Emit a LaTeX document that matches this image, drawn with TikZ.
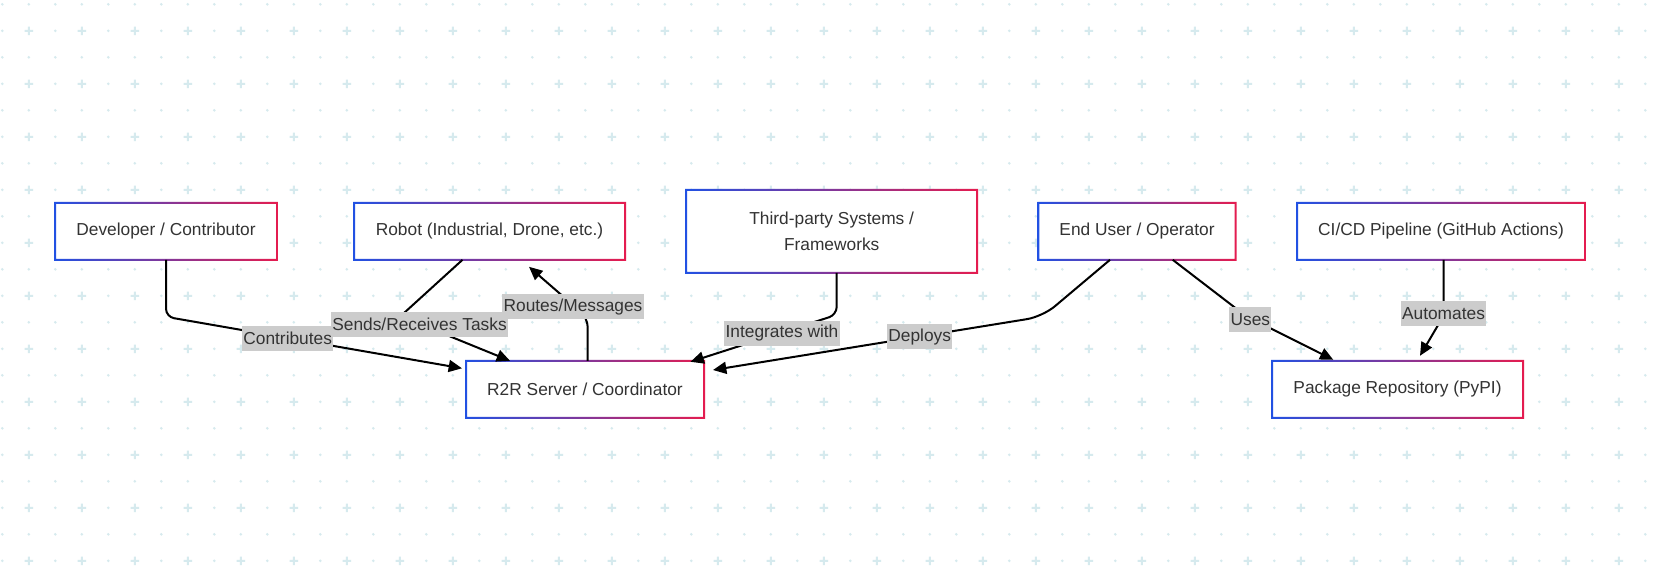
\documentclass[tikz,border=0pt]{standalone}
\usepackage{fontspec}
\setmainfont{Liberation Sans}
\usetikzlibrary{arrows.meta,calc}
\definecolor{boxblue}{RGB}{33,81,227}
\definecolor{boxred}{RGB}{229,28,79}
\definecolor{txt}{RGB}{51,51,51}
\definecolor{lblgray}{RGB}{204,204,204}
\definecolor{gridc}{RGB}{214,234,238}

\begin{document}
\begin{tikzpicture}[x=0.75pt, y=-0.75pt, every node/.style={font=\fontsize{13}{19.3}\selectfont, text=txt}, >={Triangle[length=10pt,width=9pt]},
	box/.style={fill=white, inner sep=0pt, outer sep=0pt, minimum height=42.75pt, align=center},
	elabel/.style={fill=lblgray, inner xsep=1pt, inner ysep=0pt, minimum height=18.75pt},
	conn/.style={->, line width=1.5pt, line join=round}]
	\useasboundingbox (0,0) rectangle (1655,582);
	\fill[white] (0,0) rectangle (1655,582);
	\foreach \j in {0,2,...,20} {\foreach \i in {0,...,62} {\fill[gridc] ({2.3+26.5*\i},{4.3+26.5*\j}) circle[radius=1.1pt];}}
	\foreach \j in {1,3,...,21} {\foreach \i in {0,2,...,62} {\fill[gridc] ({2.3+26.5*\i},{4.3+26.5*\j}) circle[radius=1.1pt];}}
	\foreach \j in {1,3,...,21} {\foreach \i in {1,3,...,61} {\fill[gridc, shift={({2.3+26.5*\i},{4.3+26.5*\j})}] (-4.2,-1) rectangle (4.2,1) (-1,-4.2) rectangle (1,4.2);}}
	\node[box, minimum width=166.5pt] (dev) at (166,231.3) {Developer / Contributor};
	\node[box, minimum width=203.25pt] (robot) at (489.5,231.3) {Robot (Industrial, Drone, etc.)};
	\node[box, minimum width=218.25pt, minimum height=62.25pt] (third) at (831.7,231.3) {Third-party Systems /\\ Frameworks};
	\node[box, minimum width=148pt] (user) at (1137,231.3) {End User / Operator};
	\node[box, minimum width=216pt] (cicd) at (1441,231.3) {CI/CD Pipeline (GitHub Actions)};
	\node[box, minimum width=178.5pt] (server) at (585,389.3) {R2R Server / Coordinator};
	\node[box, minimum width=188.25pt] (repo) at (1397.5,389.3) {Package Repository (PyPI)};
	\foreach \n in {dev,robot,third,user,cicd,server,repo} {\shade[left color=boxblue, right color=boxred, even odd rule] ($(\n.south west)+(-1,1)$) rectangle ($(\n.north east)+(1,-1)$) ($(\n.south west)+(1,-1)$) rectangle ($(\n.north east)+(-1,1)$);}
	\draw[conn, rounded corners=6pt] (dev.south) -- ($(dev.south)+(0,57)$) -- ($(server.north west)+(-4,7.5)$);
	\draw[conn] ($(robot.south)+(-27,0)$) -- ($(robot.south)+(-89,56.4)$) -- ($(server.north)+(-75,0)$);
	\draw[conn, rounded corners=7pt] ($(server.north)+(2.7,0)$) -- ($(server.north)+(2.7,-43)$) -- ($(robot.south)+(39.5,7)$);
	\draw[conn, rounded corners=6pt] ($(third.south)+(5,0)$) -- ($(third.south)+(5,42)$) -- ($(server.north east)+(-13.5,1)$);
	\draw[conn, rounded corners=12pt] ($(user.south)+(-27,0)$) -- ($(user.south)+(-94.4,56.8)$) -- ($(server.east)+(9,-19.3)$);
	\draw[conn, rounded corners=8pt] ($(user.south)+(35.7,0)$) -- ($(user.south)+(108.6,56)$) -- ($(repo.north)+(-64.2,-1)$);
	\draw[conn, rounded corners=7pt] ($(cicd.south)+(2.7,0)$) -- ($(cicd.south)+(2.7,55.7)$) -- ($(repo.north)+(22.5,-5)$);
	\node[elabel] (lcontrib) at (287.7,338.2) {Contributes};
	\node[elabel] (ltasks) at (419.5,324.2) {Sends/Receives Tasks};
	\node[elabel] (lroutes) at (573,306.7) {Routes/Messages};
	\node[elabel] (lintegr) at (782,333.2) {Integrates with};
	\node[elabel] (ldeploy) at (919.7,336.7) {Deploys};
	\node[elabel] (luses) at (1250.3,319.2) {Uses};
	\node[elabel] (lautom) at (1443.5,313.8) {Automates};
\end{tikzpicture}
\end{document}
